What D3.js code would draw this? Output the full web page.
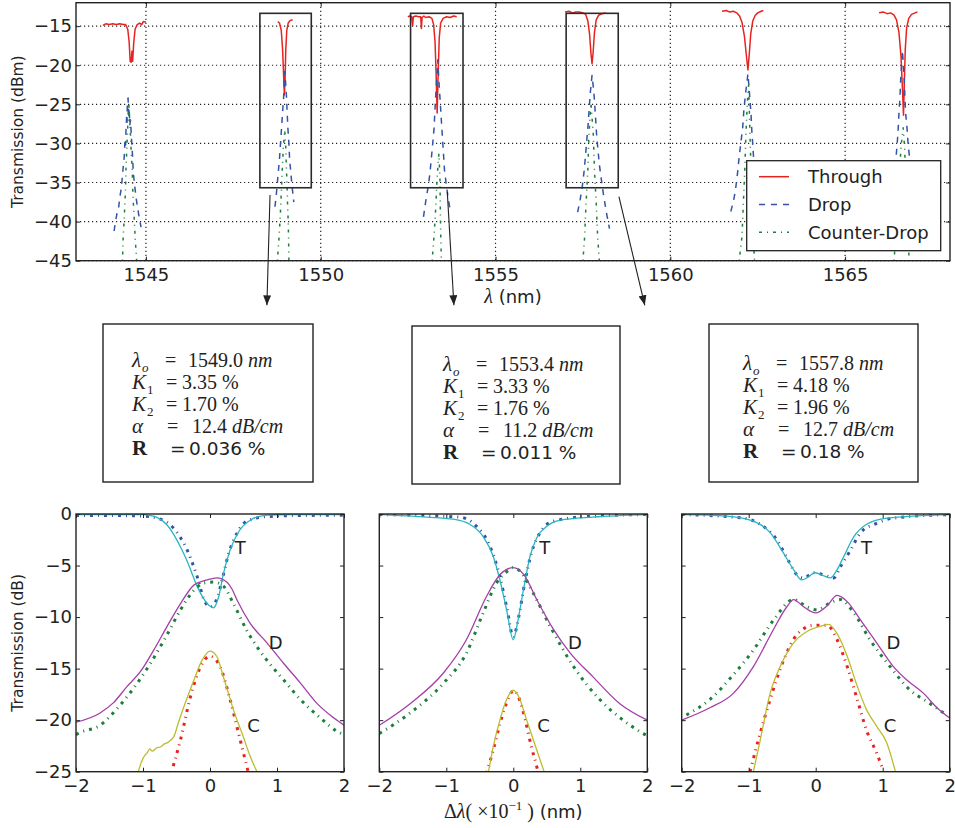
<!DOCTYPE html>
<html>
<head>
<meta charset="utf-8">
<script src="https://cdn.jsdelivr.net/npm/d3@7"></script>
<style>
  body { margin: 0; background: #fff; }
</style>
</head>
<body>
<svg id="fig" width="955" height="828" font-family="DejaVu Sans, sans-serif"></svg>
<script>
// ---------------- wavelength sweep (top panel) ----------------
const seriesNames = ["Through", "Drop", "Counter-Drop"];
const xTicksTop = [1545, 1550, 1555, 1560, 1565];
const yTicksTop = [-45, -40, -35, -30, -25, -20, -15];

// measured spectra around each resonance: [wavelength nm, power dBm]
const throughTrace = [
  [[1543.77,-14.9],[1543.85,-14.7],[1543.95,-14.8],[1544.05,-14.7],[1544.15,-14.8],[1544.25,-14.7],[1544.35,-14.8],[1544.42,-14.8],[1544.48,-15.4],[1544.52,-17.0],[1544.55,-19.5],[1544.58,-19.6],[1544.6,-18.2],[1544.62,-19.5],[1544.65,-17.2],[1544.69,-15.4],[1544.75,-14.8],[1544.82,-14.6],[1544.88,-14.8],[1544.93,-14.4],[1545.0,-14.5]],
  [[1548.77,-14.4],[1548.82,-14.6],[1548.87,-15.5],[1548.91,-18.0],[1548.94,-21.5],[1548.96,-23.8],[1548.98,-22.0],[1549.0,-18.0],[1549.03,-15.5],[1549.07,-14.6],[1549.12,-14.3],[1549.17,-14.2],[1549.2,-14.2]],
  [[1552.49,-13.8],[1552.55,-13.7],[1552.6,-13.8],[1552.63,-14.9],[1552.65,-13.8],[1552.72,-13.7],[1552.8,-13.8],[1552.86,-13.8],[1552.88,-15.3],[1552.9,-13.9],[1552.95,-13.7],[1553.0,-13.9],[1553.1,-13.8],[1553.18,-14.0],[1553.23,-14.8],[1553.27,-17.0],[1553.3,-21.0],[1553.33,-26.1],[1553.36,-21.0],[1553.39,-16.5],[1553.43,-14.6],[1553.5,-14.0],[1553.6,-13.8],[1553.7,-13.9],[1553.8,-13.7],[1553.89,-13.8]],
  [[1556.99,-13.2],[1557.1,-13.1],[1557.2,-13.3],[1557.3,-13.2],[1557.4,-13.2],[1557.5,-13.3],[1557.58,-13.5],[1557.64,-14.3],[1557.69,-16.0],[1557.73,-18.5],[1557.76,-19.8],[1557.79,-18.5],[1557.83,-15.8],[1557.88,-14.2],[1557.95,-13.6],[1558.05,-13.4],[1558.16,-13.3]],
  [[1561.48,-13.1],[1561.6,-13.0],[1561.7,-13.2],[1561.8,-13.1],[1561.9,-13.3],[1561.98,-13.7],[1562.05,-14.5],[1562.12,-16.3],[1562.17,-18.5],[1562.22,-20.6],[1562.26,-18.5],[1562.3,-16.0],[1562.36,-14.3],[1562.43,-13.6],[1562.5,-13.3],[1562.6,-13.1],[1562.66,-13.0]],
  [[1565.97,-13.3],[1566.1,-13.2],[1566.2,-13.4],[1566.3,-13.3],[1566.4,-13.6],[1566.47,-14.2],[1566.54,-15.8],[1566.6,-19.0],[1566.64,-23.0],[1566.67,-26.4],[1566.69,-23.0],[1566.72,-18.0],[1566.76,-15.2],[1566.82,-14.0],[1566.9,-13.5],[1567.0,-13.3],[1567.07,-13.2]]
];
const dropTrace = [
  [[1544.09,-41.2],[1544.13,-40.0],[1544.17,-39.0],[1544.21,-38.6],[1544.25,-37.0],[1544.3,-35.6],[1544.34,-33.5],[1544.38,-31.7],[1544.4,-29.5],[1544.42,-30.2],[1544.43,-28.3],[1544.45,-26.5],[1544.46,-27.3],[1544.47,-24.5],[1544.49,-24.2],[1544.51,-26.8],[1544.52,-25.5],[1544.54,-27.6],[1544.56,-27.0],[1544.59,-29.6],[1544.61,-31.0],[1544.64,-33.8],[1544.68,-35.5],[1544.73,-37.3],[1544.79,-39.0],[1544.86,-40.7]],
  [[1548.69,-38.1],[1548.72,-37.0],[1548.74,-36.0],[1548.78,-34.0],[1548.82,-32.0],[1548.85,-30.0],[1548.88,-28.0],[1548.91,-26.0],[1548.94,-24.0],[1548.97,-20.8],[1549.0,-22.5],[1549.02,-24.0],[1549.04,-26.0],[1549.06,-28.0],[1549.09,-30.0],[1549.11,-32.0],[1549.14,-33.5],[1549.17,-35.0],[1549.2,-36.3],[1549.23,-37.5]],
  [[1552.94,-39.4],[1553.0,-37.5],[1553.07,-35.6],[1553.12,-34.0],[1553.16,-32.1],[1553.2,-30.2],[1553.24,-28.2],[1553.27,-25.5],[1553.3,-23.1],[1553.35,-19.3],[1553.38,-22.0],[1553.42,-24.8],[1553.45,-27.0],[1553.48,-29.1],[1553.51,-31.2],[1553.54,-33.4],[1553.59,-35.2],[1553.64,-36.8],[1553.69,-38.2]],
  [[1557.35,-38.8],[1557.42,-37.2],[1557.48,-35.6],[1557.53,-33.7],[1557.57,-31.8],[1557.61,-29.6],[1557.65,-27.5],[1557.68,-25.5],[1557.71,-23.6],[1557.76,-21.3],[1557.8,-22.9],[1557.83,-24.5],[1557.86,-26.6],[1557.89,-28.8],[1557.93,-30.8],[1557.97,-32.7],[1558.03,-34.7],[1558.09,-36.6],[1558.17,-38.8],[1558.26,-40.9]],
  [[1561.73,-38.7],[1561.8,-37.5],[1561.86,-36.1],[1561.92,-33.9],[1561.97,-31.7],[1562.02,-29.8],[1562.07,-28.0],[1562.1,-26.0],[1562.14,-24.1],[1562.22,-21.1],[1562.25,-22.8],[1562.28,-24.5],[1562.31,-26.4],[1562.33,-28.3],[1562.38,-31.7],[1562.45,-35.0],[1562.55,-38.5]],
  [[1566.32,-36.0],[1566.4,-33.8],[1566.45,-32.1],[1566.49,-30.0],[1566.52,-28.0],[1566.54,-26.1],[1566.57,-24.0],[1566.59,-21.8],[1566.64,-18.1],[1566.69,-21.8],[1566.71,-24.0],[1566.73,-26.1],[1566.77,-28.0],[1566.8,-30.0],[1566.85,-32.1],[1566.95,-36.0]]
];
const counterTrace = [
  [[1544.32,-46.0],[1544.33,-45.0],[1544.35,-41.9],[1544.38,-39.5],[1544.4,-37.6],[1544.42,-35.5],[1544.43,-33.4],[1544.45,-31.0],[1544.47,-29.0],[1544.49,-26.5],[1544.51,-24.8],[1544.53,-26.8],[1544.56,-29.0],[1544.58,-31.2],[1544.61,-33.4],[1544.62,-35.5],[1544.64,-37.6],[1544.67,-40.0],[1544.69,-41.9],[1544.73,-44.6],[1544.74,-46.0]],
  [[1548.75,-46.0],[1548.76,-45.0],[1548.81,-41.9],[1548.84,-39.5],[1548.86,-37.6],[1548.88,-35.5],[1548.9,-33.4],[1548.93,-30.5],[1548.97,-28.3],[1549.0,-30.5],[1549.02,-33.4],[1549.04,-35.5],[1549.05,-37.6],[1549.07,-40.0],[1549.08,-41.9],[1549.09,-45.0],[1549.1,-46.0]],
  [[1553.18,-46.0],[1553.19,-44.8],[1553.24,-41.9],[1553.27,-39.8],[1553.29,-38.2],[1553.31,-36.2],[1553.33,-34.3],[1553.38,-31.3],[1553.41,-34.3],[1553.42,-38.0],[1553.43,-41.0],[1553.45,-44.8],[1553.46,-46.0]],
  [[1557.49,-46.0],[1557.5,-45.0],[1557.55,-41.9],[1557.59,-37.6],[1557.64,-33.4],[1557.67,-29.1],[1557.73,-24.8],[1557.8,-29.1],[1557.83,-33.4],[1557.88,-37.6],[1557.92,-41.9],[1557.97,-45.0],[1557.98,-46.0]],
  [[1561.96,-46.0],[1561.97,-45.0],[1562.05,-41.9],[1562.09,-37.6],[1562.13,-33.4],[1562.16,-29.1],[1562.2,-25.0],[1562.24,-22.5],[1562.28,-29.1],[1562.31,-33.4],[1562.33,-37.6],[1562.37,-41.9],[1562.41,-45.0],[1562.42,-46.0]],
  [[1566.39,-46.0],[1566.4,-45.0],[1566.47,-40.0],[1566.54,-35.0],[1566.6,-30.4],[1566.66,-28.0],[1566.7,-30.4],[1566.74,-35.0],[1566.79,-40.0],[1566.83,-45.0],[1566.84,-46.0]]
];

// resonances picked out for fitting: wavelength span and power span of each frame
const zoomSpans = [[1548.26, 1549.73], [1552.57, 1554.07], [1557.02, 1558.51]];
const zoomLevels = [-13.36, -35.67];
// pointer arrows from each frame down to its parameter box (data units of the top axes)
const arrowFrom = [[1548.55, -36.6], [1553.62, -36.2], [1558.53, -36.8]];
const arrowTo = [[1548.46, -50.7], [1553.81, -50.7], [1559.27, -50.7]];

// ---------------- extracted ring parameters ----------------
const lambda0 = ["1549.0", "1553.4", "1557.8"];
const kappa1 = ["3.35", "3.33", "4.18"];
const kappa2 = ["1.70", "1.76", "1.96"];
const alphaLoss = ["12.4", "11.2", "12.7"];
const reflect = ["0.036", "0.011", "0.18"];

// ---------------- detuning plots (bottom panels) ----------------
const xTicksBottom = [-2, -1, 0, 1, 2];
const yTicksBottom = [-25, -20, -15, -10, -5, 0];

// [detuning (x1e-1 nm), transmission dB]
const tMeas1 = [[-2,-0.05],[-1.5,-0.05],[-1.0,-0.05],[-0.94,-0.1],[-0.8,-0.3],[-0.64,-1.07],[-0.54,-2.0],[-0.44,-3.2],[-0.36,-4.3],[-0.29,-5.4],[-0.2,-6.9],[-0.14,-7.7],[-0.04,-8.7],[0.05,-9.1],[0.13,-8.0],[0.2,-5.8],[0.3,-3.5],[0.43,-1.7],[0.6,-0.6],[0.85,-0.1],[1.2,-0.05],[2,-0.05]];
const tFit1 = [[-2,-0.15],[-1.5,-0.15],[-1.0,-0.2],[-0.79,-0.4],[-0.54,-1.4],[-0.44,-2.3],[-0.34,-3.5],[-0.26,-4.8],[-0.19,-6.1],[-0.09,-8.3],[0.0,-9.0],[0.1,-8.3],[0.18,-6.4],[0.28,-3.8],[0.4,-1.9],[0.55,-0.7],[0.85,-0.25],[1.3,-0.15],[2,-0.12]];
const dMeas1 = [[-2,-20.2],[-1.64,-19.3],[-1.44,-18.3],[-1.24,-16.75],[-1.04,-15.3],[-0.84,-13.2],[-0.64,-10.9],[-0.44,-8.7],[-0.24,-6.9],[-0.04,-6.4],[0.1,-6.2],[0.25,-6.6],[0.33,-7.3],[0.4,-8.3],[0.6,-10.6],[0.85,-12.5],[1.1,-14.5],[1.35,-16.4],[1.6,-18.4],[1.85,-19.8],[2,-20.5]];
const dFit1 = [[-2,-21.4],[-1.94,-21.2],[-1.64,-20.5],[-1.39,-18.9],[-1.14,-16.9],[-0.89,-14.5],[-0.64,-11.7],[-0.44,-9.3],[-0.24,-7.4],[-0.09,-6.7],[0.05,-6.6],[0.2,-7.0],[0.35,-8.7],[0.55,-11.3],[0.85,-14.2],[1.1,-16.1],[1.35,-18.0],[1.65,-19.8],[1.9,-21.1],[2,-21.4]];
const cMeas1 = [[-1.07,-25.0],[-1.02,-24.0],[-0.97,-23.4],[-0.94,-23.2],[-0.9,-22.8],[-0.86,-23.0],[-0.8,-22.7],[-0.74,-22.6],[-0.68,-22.3],[-0.64,-22.2],[-0.58,-21.9],[-0.54,-21.6],[-0.47,-20.2],[-0.39,-18.7],[-0.31,-17.3],[-0.24,-16.1],[-0.12,-14.2],[0.0,-13.3],[0.1,-13.8],[0.2,-15.8],[0.28,-17.5],[0.35,-19.0],[0.48,-21.3],[0.6,-23.5],[0.7,-25.0]];
const cFit1 = [[-0.6,-25.8],[-0.57,-25.0],[-0.44,-21.9],[-0.29,-17.7],[-0.14,-14.8],[0.0,-13.8],[0.15,-14.8],[0.3,-18.0],[0.45,-21.9],[0.55,-24.5],[0.6,-25.8]];

const tMeas2 = [[-2,-0.06],[-1.29,-0.3],[-0.9,-0.5],[-0.65,-1.0],[-0.45,-2.2],[-0.3,-4.1],[-0.2,-6.4],[-0.1,-9.3],[0.0,-12.2],[0.07,-10.3],[0.15,-7.4],[0.25,-4.1],[0.35,-2.3],[0.5,-1.2],[0.7,-0.6],[1.19,-0.3],[2,-0.06]];
const tFit2 = [[-2,-0.05],[-0.8,-0.3],[-0.55,-1.2],[-0.35,-3.1],[-0.2,-6.1],[-0.1,-9.0],[0.0,-11.9],[0.08,-10.0],[0.17,-6.7],[0.27,-3.8],[0.4,-1.8],[0.6,-0.7],[1.19,-0.2],[2,-0.05]];
const dMeas2 = [[-2,-20.5],[-1.54,-18.4],[-1.04,-15.4],[-0.7,-12.2],[-0.4,-8.0],[-0.2,-5.9],[0.0,-5.2],[0.16,-5.9],[0.35,-8.3],[0.6,-11.2],[0.85,-13.5],[1.19,-15.8],[1.59,-18.4],[2,-20.0]];
const dFit2 = [[-2,-21.3],[-1.54,-19.3],[-1.04,-16.4],[-0.7,-13.5],[-0.45,-9.6],[-0.25,-6.7],[-0.1,-5.6],[0.0,-5.2],[0.11,-5.6],[0.3,-7.7],[0.55,-10.9],[0.9,-14.8],[1.29,-18.0],[1.64,-20.0],[1.94,-21.3],[2,-21.5]];
const cMeas2 = [[-0.37,-25.0],[-0.3,-22.6],[-0.2,-20.0],[-0.1,-18.0],[0.0,-17.1],[0.08,-17.7],[0.2,-20.0],[0.35,-22.9],[0.46,-25.0]];
const cFit2 = [[-0.4,-25.2],[-0.3,-22.9],[-0.17,-19.7],[-0.06,-17.7],[0.0,-17.1],[0.08,-17.8],[0.18,-20.0],[0.27,-22.6],[0.35,-24.5],[0.38,-25.3]];

const tMeas3 = [[-2,-0.06],[-1.33,-0.2],[-0.93,-0.7],[-0.68,-1.8],[-0.48,-3.8],[-0.33,-5.4],[-0.21,-6.4],[-0.11,-6.1],[-0.01,-5.7],[0.12,-6.0],[0.22,-6.2],[0.32,-5.4],[0.42,-4.1],[0.57,-2.2],[0.76,-1.0],[1.06,-0.4],[2,-0.06]];
const tFit3 = [[-2,-0.05],[-1.08,-0.4],[-0.83,-1.0],[-0.58,-2.5],[-0.41,-4.5],[-0.28,-5.9],[-0.18,-6.2],[-0.03,-5.7],[0.12,-5.9],[0.27,-6.2],[0.37,-5.1],[0.52,-3.5],[0.67,-1.8],[0.91,-0.9],[1.16,-0.4],[2,-0.05]];
const dMeas3 = [[-2,-20.0],[-1.58,-18.8],[-1.23,-17.4],[-0.93,-14.8],[-0.63,-11.2],[-0.43,-9.0],[-0.33,-8.3],[-0.18,-9.0],[0.0,-9.6],[0.17,-8.9],[0.32,-7.9],[0.47,-8.5],[0.67,-10.3],[0.91,-12.5],[1.16,-14.8],[1.36,-16.1],[1.61,-17.4],[1.81,-18.8],[2,-19.8]];
const dFit3 = [[-1.93,-19.5],[-1.58,-18.0],[-1.23,-15.6],[-0.93,-13.2],[-0.63,-10.3],[-0.33,-8.3],[-0.13,-9.0],[0.02,-9.3],[0.22,-8.6],[0.37,-8.3],[0.57,-9.6],[0.81,-12.2],[1.11,-14.8],[1.41,-17.1],[1.66,-18.2],[1.91,-19.3]];
const cMeas3 = [[-0.93,-25.0],[-0.83,-22.0],[-0.68,-17.4],[-0.53,-14.8],[-0.33,-12.5],[-0.13,-11.4],[0.07,-10.9],[0.19,-10.7],[0.32,-11.6],[0.47,-13.8],[0.62,-16.7],[0.76,-19.0],[0.91,-20.6],[1.06,-22.2],[1.19,-25.0]];
const cFit3 = [[-0.98,-25.0],[-0.83,-21.3],[-0.68,-18.0],[-0.48,-14.2],[-0.28,-11.7],[-0.03,-10.8],[0.17,-10.8],[0.32,-12.2],[0.47,-14.8],[0.62,-18.0],[0.76,-21.0],[0.91,-23.2],[1.01,-24.9]];

const curveLetters = ["T", "D", "C"];

// ---------------- layout & styles ----------------
const INK = "#222";
const SANS = "DejaVu Sans";
const SERIF = "Liberation Serif";
const topBox = { left: 76, right: 950, top: 2.7, bottom: 260.7 };
const bottomLefts = [76, 379.3, 681.7];
const bottomW = 268, bottomTop = 514, bottomBottom = 771.7;
const paramBoxes = [
  { x: 103, y: 324, w: 210, h: 158, base: 367, inset: 29 },
  { x: 412, y: 326, w: 208, h: 158, base: 371, inset: 31 },
  { x: 709, y: 324, w: 209, h: 158, base: 370, inset: 34 }
];
// letter anchors (data coordinates of each bottom panel)
const letterAt = [
  [[0.45, -3.3], [0.98, -12.5], [0.65, -20.5]],
  [[0.47, -3.3], [0.92, -12.5], [0.45, -20.5]],
  [[0.76, -3.3], [1.16, -12.5], [1.11, -20.5]]
];
const topStyles = [
  { color: "#e8231f", dash: null, width: 1.5 },
  { color: "#3353a6", dash: "6,6", width: 1.5 },
  { color: "#1d7f3c", dash: "3,5,1,5", width: 1.5 }
];
const measColors = ["#27b6c2", "#a43fa8", "#bcbc2e"];
const fitColors = ["#3353a6", "#1d7f3c", "#e8231f"];
const intFmt = d3.format("d");

const svg = d3.select("#fig");
const defs = svg.append("defs");
defs.append("marker").attr("id", "head")
  .attr("viewBox", "0 0 10 8").attr("refX", 10).attr("refY", 4)
  .attr("markerWidth", 10).attr("markerHeight", 8)
  .attr("markerUnits", "userSpaceOnUse").attr("orient", "auto")
  .append("path").attr("d", "M0,0L10,4L0,8Z").attr("fill", INK);

function styleAxis(a, showLabels) {
  a.attr("font-size", 18).attr("font-family", SANS);
  a.select(".domain").remove();
  a.selectAll(".tick line").attr("stroke", INK).attr("stroke-width", 1);
  a.selectAll(".tick text").attr("fill", INK);
  if (!showLabels) a.selectAll(".tick text").remove();
}

function frameAxes(g, x, y, xt, yt, yLabels) {
  const [x0, x1] = x.range();
  const [y0, y1] = y.range();
  g.append("g").attr("transform", `translate(0,${y0})`)
    .call(d3.axisBottom(x).tickValues(xt).tickFormat(intFmt).tickSizeInner(-4).tickSizeOuter(0).tickPadding(8))
    .call(a => styleAxis(a, true));
  g.append("g").attr("transform", `translate(0,${y1})`)
    .call(d3.axisTop(x).tickValues(xt).tickSizeInner(-4).tickSizeOuter(0))
    .call(a => styleAxis(a, false));
  g.append("g").attr("transform", `translate(${x0},0)`)
    .call(d3.axisLeft(y).tickValues(yt).tickFormat(intFmt).tickSizeInner(-4).tickSizeOuter(0).tickPadding(4))
    .call(a => styleAxis(a, yLabels));
  g.append("g").attr("transform", `translate(${x1},0)`)
    .call(d3.axisRight(y).tickValues(yt).tickSizeInner(-4).tickSizeOuter(0))
    .call(a => styleAxis(a, false));
  g.append("rect").attr("x", x0).attr("y", y1).attr("width", x1 - x0).attr("height", y0 - y1)
    .attr("fill", "none").attr("stroke", INK).attr("stroke-width", 1.4);
}

function addClip(id, x, y) {
  const [x0, x1] = x.range(), [y0, y1] = y.range();
  defs.append("clipPath").attr("id", id).append("rect")
    .attr("x", x0).attr("y", y1).attr("width", x1 - x0).attr("height", y0 - y1);
}

// ================= top panel =================
const topX = d3.scaleLinear().domain([1543, 1568]).range([topBox.left, topBox.right]);
const topY = d3.scaleLinear().domain([-45, -12]).range([topBox.bottom, topBox.top]);
addClip("clipTop", topX, topY);
const gTop = svg.append("g");

// dotted grid
gTop.append("g").selectAll("line").data(xTicksTop).join("line")
  .attr("x1", d => topX(d)).attr("x2", d => topX(d))
  .attr("y1", topBox.top).attr("y2", topBox.bottom)
  .attr("stroke", "#222").attr("stroke-width", 1.2).attr("stroke-dasharray", "1.2,2.8");
gTop.append("g").selectAll("line").data(yTicksTop).join("line")
  .attr("y1", d => topY(d)).attr("y2", d => topY(d))
  .attr("x1", topBox.left).attr("x2", topBox.right)
  .attr("stroke", "#222").attr("stroke-width", 1.2).attr("stroke-dasharray", "1.2,2.8");

const topLine = d3.line().x(d => topX(d[0])).y(d => topY(d[1]));
const traces = [throughTrace, dropTrace, counterTrace];
const gCurves = gTop.append("g").attr("clip-path", "url(#clipTop)");
traces.forEach((segs, k) => {
  gCurves.append("g").selectAll("path").data(segs).join("path")
    .attr("d", topLine)
    .attr("fill", "none")
    .attr("stroke", topStyles[k].color)
    .attr("stroke-width", topStyles[k].width)
    .attr("stroke-dasharray", topStyles[k].dash)
    .attr("stroke-linejoin", "round");
});

// frames around the fitted resonances
gTop.append("g").selectAll("rect").data(zoomSpans).join("rect")
  .attr("x", d => topX(d[0])).attr("width", d => topX(d[1]) - topX(d[0]))
  .attr("y", topY(zoomLevels[0])).attr("height", topY(zoomLevels[1]) - topY(zoomLevels[0]))
  .attr("fill", "none").attr("stroke", "#2a2a2a").attr("stroke-width", 1.6);

frameAxes(gTop, topX, topY, xTicksTop, yTicksTop, true);

// legend
const legend = svg.append("g");
legend.append("rect").attr("x", 746.7).attr("y", 160.7).attr("width", 194).attr("height", 90)
  .attr("fill", "#fff").attr("stroke", INK).attr("stroke-width", 1.3);
seriesNames.forEach((name, k) => {
  const yy = 176.7 + k * 27.8;
  legend.append("line").attr("x1", 759).attr("x2", 789).attr("y1", yy).attr("y2", yy)
    .attr("stroke", topStyles[k].color).attr("stroke-width", topStyles[k].width)
    .attr("stroke-dasharray", topStyles[k].dash);
  legend.append("text").attr("x", 808).attr("y", yy).attr("dy", "0.35em")
    .attr("font-family", SANS).attr("font-size", 18).attr("fill", INK).text(name);
});

// axis titles
svg.append("text").attr("transform", `translate(18,${(topBox.top + topBox.bottom) / 2}) rotate(-90)`)
  .attr("text-anchor", "middle").attr("dy", "0.35em").attr("font-family", SANS).attr("font-size", 15.5).attr("fill", INK)
  .text("Transmission (dBm)");
const lamLabel = svg.append("text").attr("x", (topBox.left + topBox.right) / 2).attr("y", 303)
  .attr("text-anchor", "middle").attr("font-family", SANS).attr("font-size", 18).attr("fill", INK);
lamLabel.append("tspan").attr("font-family", SERIF).attr("font-style", "italic").attr("font-size", 20).text("λ");
lamLabel.append("tspan").text(" (nm)");

// arrows to the parameter boxes
svg.append("g").selectAll("line").data(arrowFrom).join("line")
  .attr("x1", d => topX(d[0])).attr("y1", d => topY(d[1]))
  .attr("x2", (d, i) => topX(arrowTo[i][0])).attr("y2", (d, i) => topY(arrowTo[i][1]))
  .attr("stroke", INK).attr("stroke-width", 1.1).attr("marker-end", "url(#head)");

// ================= parameter boxes =================
paramBoxes.forEach((b, i) => {
  const g = svg.append("g");
  g.append("rect").attr("x", b.x).attr("y", b.y).attr("width", b.w).attr("height", b.h)
    .attr("fill", "#fff").attr("stroke", INK).attr("stroke-width", 1.4);
  const x0 = b.x + b.inset;
  const lh = 22;
  function line(n) {
    return g.append("text").attr("x", x0).attr("y", b.base + n * lh)
      .attr("font-size", 20).attr("fill", INK).attr("font-family", SERIF);
  }
  // resonance wavelength
  let t = line(0);
  t.append("tspan").attr("font-style", "italic").attr("font-size", 21).text("λ");
  t.append("tspan").attr("font-style", "italic").attr("font-size", 13).attr("dx", 1).attr("dy", 5).text("o");
  t.append("tspan").attr("x", x0 + 33).attr("dy", -5).text("=");
  t.append("tspan").attr("x", x0 + 56).text(lambda0[i]);
  t.append("tspan").attr("font-style", "italic").text(" nm");
  // coupling coefficients
  [kappa1, kappa2].forEach((arr, j) => {
    t = line(1 + j);
    t.append("tspan").attr("font-style", "italic").attr("font-size", 21).text("K");
    t.append("tspan").attr("font-size", 13).attr("dx", 1).attr("dy", 5).text(String(j + 1));
    t.append("tspan").attr("x", x0 + 34).attr("dy", -5).text("=");
    t.append("tspan").attr("x", x0 + 50).text(arr[i] + " %");
  });
  // propagation loss
  t = line(3);
  t.append("tspan").attr("font-style", "italic").attr("font-size", 21).text("α");
  t.append("tspan").attr("x", x0 + 35).text("=");
  t.append("tspan").attr("x", x0 + 60).text(alphaLoss[i]);
  t.append("tspan").attr("font-style", "italic").text(" dB/cm");
  // back-reflection
  t = line(4);
  t.append("tspan").attr("font-weight", "bold").attr("font-size", 21).text("R");
  t.append("tspan").attr("x", x0 + 38).attr("font-family", SANS).attr("font-size", 18.5).text("=");
  t.append("tspan").attr("x", x0 + 57).attr("font-family", SANS).attr("font-size", 18.5).text(reflect[i] + " %");
});

// ================= bottom panels =================
const panelData = [
  [tMeas1, tFit1, dMeas1, dFit1, cMeas1, cFit1],
  [tMeas2, tFit2, dMeas2, dFit2, cMeas2, cFit2],
  [tMeas3, tFit3, dMeas3, dFit3, cMeas3, cFit3]
];
panelData.forEach((sets, p) => {
  const x = d3.scaleLinear().domain([-2, 2]).range([bottomLefts[p], bottomLefts[p] + bottomW]);
  const y = d3.scaleLinear().domain([-25, 0]).range([bottomBottom, bottomTop]);
  addClip("clipB" + p, x, y);
  const g = svg.append("g");
  const gc = g.append("g").attr("clip-path", `url(#clipB${p})`);
  const line = d3.line().x(d => x(d[0])).y(d => y(d[1])).curve(d3.curveMonotoneX);
  [0, 1, 2].forEach(k => {
    // fitted response: thick dash-dot
    gc.append("path").datum(sets[2 * k + 1]).attr("d", line)
      .attr("fill", "none").attr("stroke", fitColors[k]).attr("stroke-width", 3)
      .attr("stroke-dasharray", "3,5,1,5");
    // measured response: thin solid
    gc.append("path").datum(sets[2 * k]).attr("d", line)
      .attr("fill", "none").attr("stroke", measColors[k]).attr("stroke-width", 1.3);
  });
  g.append("g").selectAll("text").data(curveLetters).join("text")
    .attr("x", (d, k) => x(letterAt[p][k][0])).attr("y", (d, k) => y(letterAt[p][k][1]))
    .attr("text-anchor", "middle").attr("dy", "0.35em")
    .attr("font-family", SANS).attr("font-size", 18).attr("fill", INK).text(d => d);
  frameAxes(g, x, y, xTicksBottom, yTicksBottom, p === 0);
});

svg.append("text").attr("transform", `translate(18,${(bottomTop + bottomBottom) / 2}) rotate(-90)`)
  .attr("text-anchor", "middle").attr("dy", "0.35em").attr("font-family", SANS).attr("font-size", 15.5).attr("fill", INK)
  .text("Transmission (dB)");

const dl = svg.append("text").attr("x", bottomLefts[1] + bottomW / 2).attr("y", 818)
  .attr("text-anchor", "middle").attr("font-family", SANS).attr("font-size", 18).attr("fill", INK);
dl.append("tspan").attr("font-family", SERIF).attr("font-size", 20).text("Δ");
dl.append("tspan").attr("font-family", SERIF).attr("font-style", "italic").attr("font-size", 20).text("λ");
dl.append("tspan").attr("font-family", SERIF).attr("font-size", 20).text("( ×10");
dl.append("tspan").attr("font-family", SERIF).attr("font-size", 13).attr("dy", -8).text("−1");
dl.append("tspan").attr("font-family", SERIF).attr("font-size", 20).attr("dy", 8).text(" )");
dl.append("tspan").text(" (nm)");
</script>
</body>
</html>
